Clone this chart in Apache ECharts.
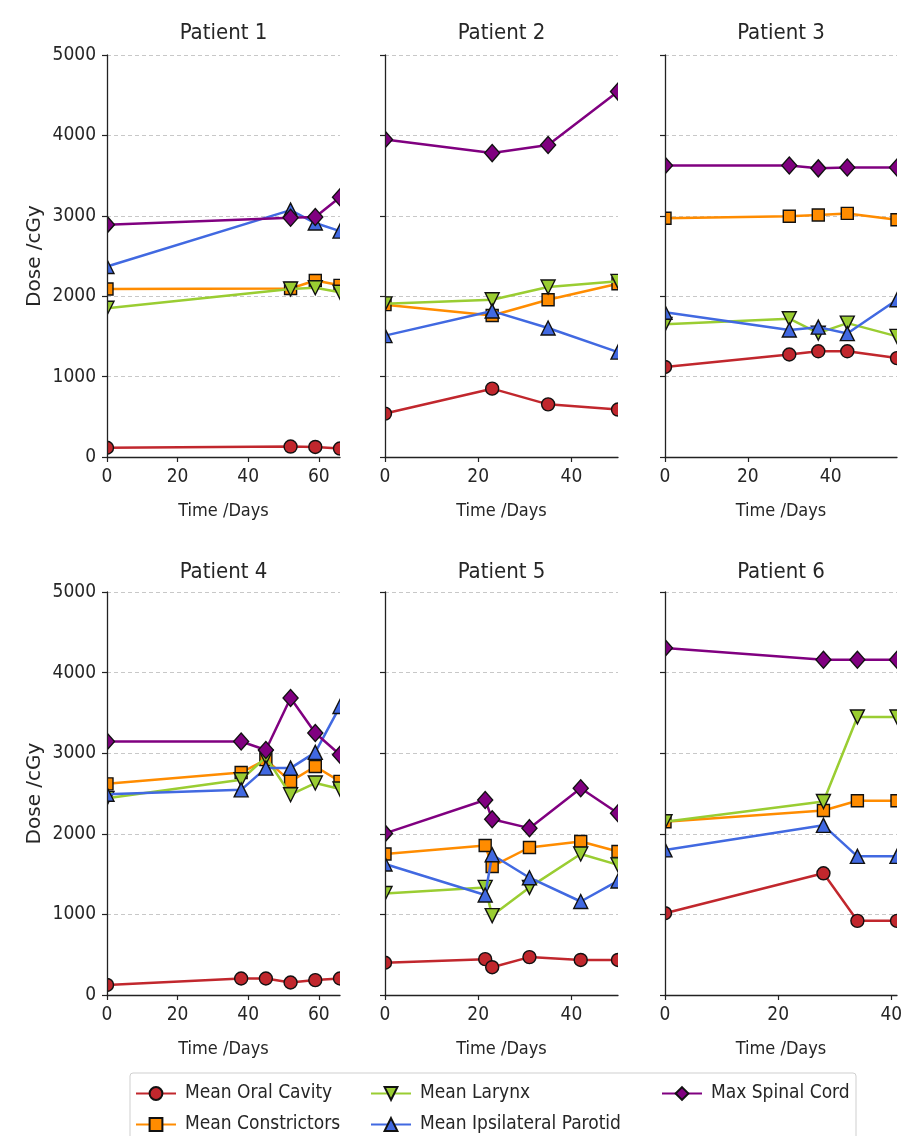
<!DOCTYPE html>
<html><head><meta charset="utf-8">
<script src="https://cdn.jsdelivr.net/npm/echarts@6/dist/echarts.min.js"></script>
<style>html,body{margin:0;padding:0;background:#fff}#c{width:922px;height:1136px}</style>
</head><body><div id="c"></div><script>
// ---- data ----
const seriesNames = ['Mean Oral Cavity','Mean Constrictors','Mean Larynx','Mean Ipsilateral Parotid','Max Spinal Cord'];
const patientTitles = ['Patient 1','Patient 2','Patient 3','Patient 4','Patient 5','Patient 6'];
const xTickValues = [[0,20,40,60],[0,20,40],[0,20,40],[0,20,40,60],[0,20,40],[0,20,40]];
const xMaxDays = [66,50,56,66,50,41];
const yTickValues = [0,1000,2000,3000,4000,5000];

const p1Days = [0,52,59,66];
const p1Oral = [115,130,125,105];
const p1Constrictors = [2090,2095,2195,2135];
const p1Larynx = [1850,2090,2105,2050];
const p1Parotid = [2370,3070,2910,2810];
const p1Spinal = [2890,2975,2985,3230];

const p2Days = [0,23,35,50];
const p2Oral = [540,850,655,590];
const p2Constrictors = [1895,1760,1955,2155];
const p2Larynx = [1905,1955,2115,2185];
const p2Parotid = [1510,1815,1605,1305];
const p2Spinal = [3950,3780,3880,4545];

const p3Days = [0,30,37,44,56];
const p3Oral = [1120,1275,1315,1315,1230];
const p3Constrictors = [2970,2995,3010,3030,2950];
const p3Larynx = [1650,1720,1540,1665,1500];
const p3Parotid = [1800,1580,1615,1535,1955];
const p3Spinal = [3625,3625,3590,3600,3600];

const p4Days = [0,38,45,52,59,66];
const p4Oral = [125,205,205,155,185,205];
const p4Constrictors = [2620,2760,2920,2650,2835,2650];
const p4Larynx = [2440,2670,2950,2485,2630,2555];
const p4Parotid = [2490,2545,2815,2815,3010,3580];
const p4Spinal = [3145,3145,3040,3685,3250,2980];

const p5Days = [0,21.5,23,31,42,50];
const p5Oral = [400,445,345,470,435,435];
const p5Constrictors = [1750,1855,1595,1830,1905,1780];
const p5Larynx = [1260,1335,985,1335,1750,1615];
const p5Parotid = [1625,1240,1740,1455,1160,1415];
const p5Spinal = [2005,2420,2180,2070,2565,2255];

const p6Days = [0,28,34,41];
const p6Oral = [1015,1510,920,920];
const p6Constrictors = [2150,2290,2410,2410];
const p6Larynx = [2150,2400,3450,3450];
const p6Parotid = [1800,2105,1720,1720];
const p6Spinal = [4305,4160,4160,4160];

const patients = [
  {days:p1Days, values:[p1Oral,p1Constrictors,p1Larynx,p1Parotid,p1Spinal]},
  {days:p2Days, values:[p2Oral,p2Constrictors,p2Larynx,p2Parotid,p2Spinal]},
  {days:p3Days, values:[p3Oral,p3Constrictors,p3Larynx,p3Parotid,p3Spinal]},
  {days:p4Days, values:[p4Oral,p4Constrictors,p4Larynx,p4Parotid,p4Spinal]},
  {days:p5Days, values:[p5Oral,p5Constrictors,p5Larynx,p5Parotid,p5Spinal]},
  {days:p6Days, values:[p6Oral,p6Constrictors,p6Larynx,p6Parotid,p6Spinal]}
];

// ---- styles / layout ----
const colors = ['#c1272d','#ff8c00','#9acd32','#4169e1','#800080'];
const symbols = ['circle','rect','triangle','triangle','diamond'];
const symbolRot = [0,0,180,0,0];
const symbolSizes = [13,12,14,14,[15,17]];
const FONT = '"DejaVu Sans Condensed","Liberation Sans Narrow","DejaVu Sans",sans-serif';
const TXT = '#262626';
const gridLefts = [107,385,665];
const gridWidths = [233,233,232];
const gridTops = [55,592];
const gridHeights = [402,403];
const legendLefts = [130,130,365,365,656];
const legendTops = [1079,1110,1079,1110,1079];

const grids = [], xAxes = [], yAxes = [], series = [], graphics = [];
patients.forEach((p, g) => {
  const col = g % 3, row = Math.floor(g / 3);
  const L = gridLefts[col], W = gridWidths[col], T = gridTops[row], H = gridHeights[row];
  grids.push({left:L, top:T, width:W, height:H, containLabel:false});
  xAxes.push({
    type:'value', gridIndex:g, min:0, max:xMaxDays[g], z:10, position:'bottom',
    name:'Time /Days', nameLocation:'middle', nameGap:45,
    nameTextStyle:{fontFamily:FONT, fontSize:18, color:TXT},
    axisLine:{show:true, onZero:false, lineStyle:{color:'#222', width:1.3}},
    axisTick:{show:true, length:5, customValues:xTickValues[g], lineStyle:{color:'#222', width:1.2}},
    axisLabel:{customValues:xTickValues[g], margin:11, fontFamily:FONT, fontSize:19, color:TXT},
    splitLine:{show:false}
  });
  // gridline axis (behind series)
  yAxes.push({
    type:'value', gridIndex:g, min:0, max:5000, interval:1000, z:0, position:'left',
    axisLine:{show:false}, axisTick:{show:false}, axisLabel:{show:false},
    splitLine:{show:true, lineStyle:{color:'#c8c8c8', type:[4,3], width:1}}
  });
  // visible axis (front)
  yAxes.push({
    type:'value', gridIndex:g, min:0, max:5000, interval:1000, z:10, position:'left', offset:0,
    name: col === 0 ? 'Dose /cGy' : '', nameLocation:'middle', nameGap:62, nameRotate:90,
    nameTextStyle:{fontFamily:'"DejaVu Sans",sans-serif', fontSize:20, color:TXT},
    axisLine:{show:true, onZero:false, lineStyle:{color:'#222', width:1.3}},
    axisTick:{show:true, length:5, lineStyle:{color:'#222', width:1.2}},
    axisLabel:{show: col === 0, margin:11, fontFamily:FONT, fontSize:19, color:TXT,
      formatter: v => yTickValues.indexOf(v) >= 0 ? String(v) : ''},
    splitLine:{show:false}
  });
  p.values.forEach((vals, s) => {
    series.push({
      type:'line', name:seriesNames[s], xAxisIndex:g, yAxisIndex:2*g+1,
      data: p.days.map((d, i) => [d, vals[i]]),
      clip:false, symbol:symbols[s], symbolRotate:symbolRot[s], symbolSize:symbolSizes[s],
      showAllSymbol:true,
      lineStyle:{color:colors[s], width:2.5},
      itemStyle:{color:colors[s], borderColor:'#111', borderWidth:1.4},
      emphasis:{disabled:true}, z:2 + s*0.01
    });
  });
  // white masks to crop markers at the plot edges
  graphics.push({type:'rect', silent:true, z:5, shape:{x:L-11, y:T-12, width:11, height:H+12}, style:{fill:'#fff'}});
  graphics.push({type:'rect', silent:true, z:5, shape:{x:L+W, y:T-12, width:11, height:H+12}, style:{fill:'#fff'}});
  graphics.push({type:'text', silent:true, z:20, x:L + W/2, y: row === 0 ? 33 : 572,
    style:{text:patientTitles[g], fontFamily:FONT, fontSize:22, fill:TXT, align:'center', verticalAlign:'middle',
      textAlign:'center', textVerticalAlign:'middle'}});
});
// legend frame
graphics.push({type:'rect', silent:true, z:1, shape:{x:130, y:1073, width:726, height:80, r:3},
  style:{fill:'#fff', stroke:'#cfcfcf', lineWidth:1}});

const legends = seriesNames.map((n, i) => ({
  left:legendLefts[i], top:legendTops[i], itemWidth:40, itemHeight:16,
  textStyle:{fontFamily:FONT, fontSize:19, color:TXT, padding:[0,0,0,4]},
  selectedMode:false, z:6, data:[n]
}));

const chart = echarts.init(document.getElementById('c'), null, {renderer:'canvas'});
chart.setOption({
  animation:false,
  backgroundColor:'#fff',
  grid:grids, xAxis:xAxes, yAxis:yAxes, series:series,
  legend:legends,
  graphic:{elements:graphics}
});
</script></body></html>
